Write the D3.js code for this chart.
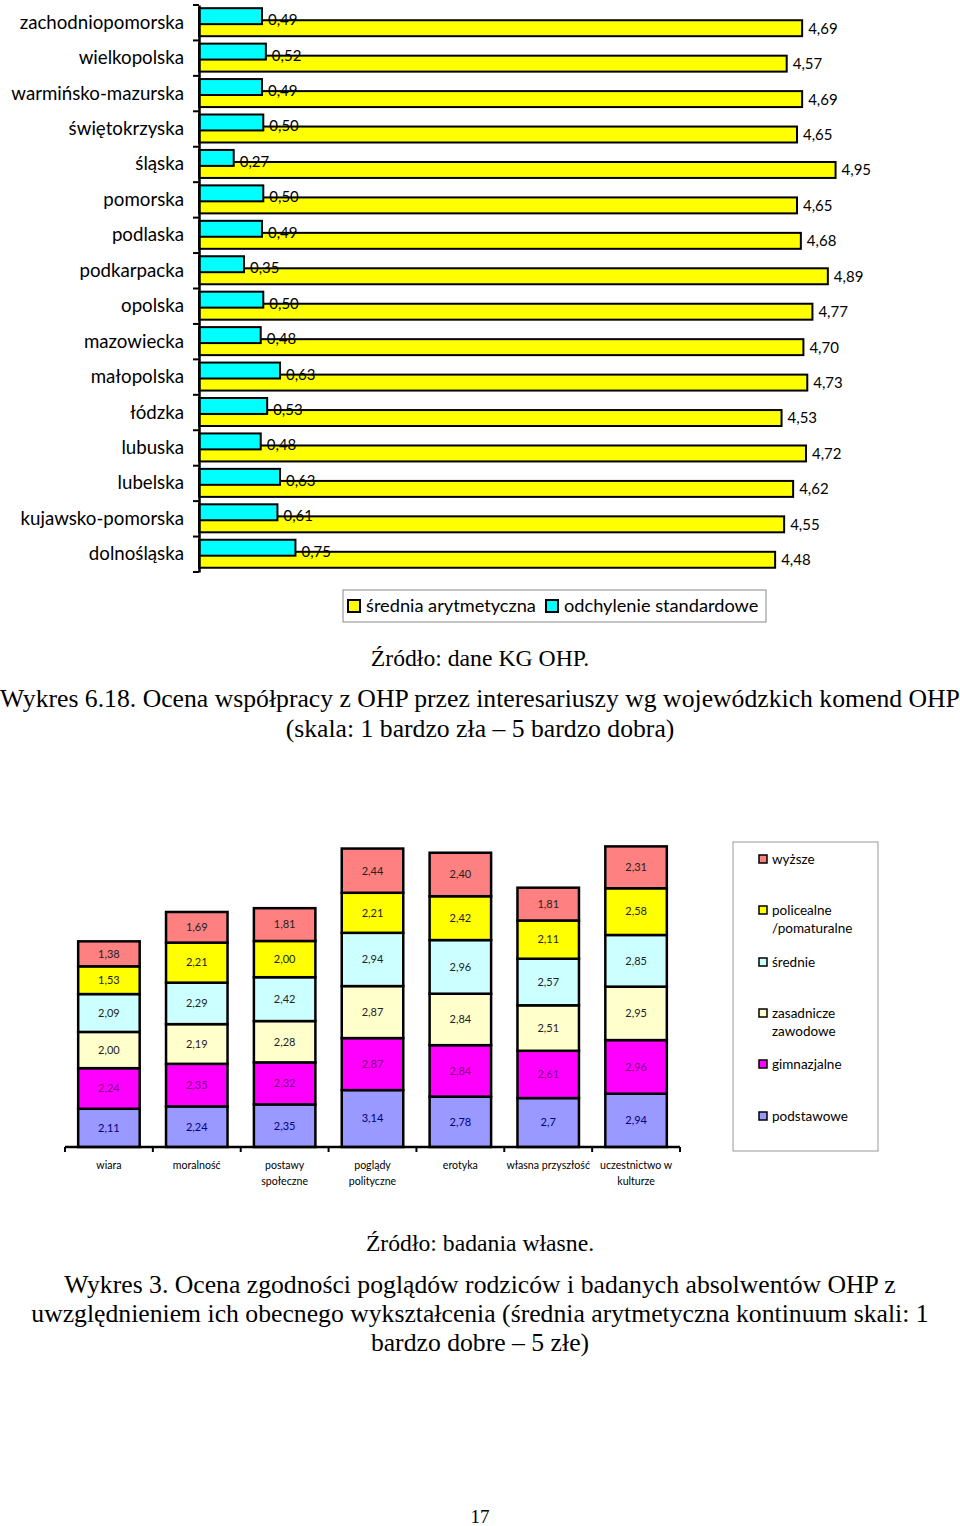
<!DOCTYPE html>
<meta charset="utf-8">
<script src="https://d3js.org/d3.v7.min.js"></script>
<style>
body{margin:0;background:#fff;}
svg text{font-family:Lato,"Open Sans",sans-serif;}
.serif{font-family:"Liberation Serif","Times New Roman",serif !important;}
</style>
<div id="vis"></div>
<script>

// --- top chart data (order as drawn, top to bottom)
var regions = ["zachodniopomorska","wielkopolska","warmińsko-mazurska","świętokrzyska","śląska",
  "pomorska","podlaska","podkarpacka","opolska","mazowiecka","małopolska","łódzka","lubuska",
  "lubelska","kujawsko-pomorska","dolnośląska"];
var meanVals = [4.69,4.57,4.69,4.65,4.95,4.65,4.68,4.89,4.77,4.70,4.73,4.53,4.72,4.62,4.55,4.48];
var sdVals   = [0.49,0.52,0.49,0.50,0.27,0.50,0.49,0.35,0.50,0.48,0.63,0.53,0.48,0.63,0.61,0.75];
var topSeries = ["średnia arytmetyczna","odchylenie standardowe"];

// --- bottom chart data
var topics = ["wiara","moralność","postawy społeczne","poglądy polityczne","erotyka","własna przyszłość","uczestnictwo w kulturze"];
var topicLines = [["wiara"],["moralność"],["postawy","społeczne"],["poglądy","polityczne"],["erotyka"],["własna przyszłość"],["uczestnictwo w","kulturze"]];
var levels = ["podstawowe","gimnazjalne","zasadnicze zawodowe","średnie","policealne /pomaturalne","wyższe"];
var podstawowe  = [2.11,2.24,2.35,3.14,2.78,2.7,2.94];
var gimnazjalne = [2.24,2.35,2.32,2.87,2.84,2.61,2.96];
var zasadnicze  = [2.00,2.19,2.28,2.87,2.84,2.51,2.95];
var srednie     = [2.09,2.29,2.42,2.94,2.96,2.57,2.85];
var policealne  = [1.53,2.21,2.00,2.21,2.42,2.11,2.58];
var wyzsze      = [1.38,1.69,1.81,2.44,2.40,1.81,2.31];
var podstawoweLabels = ["2,11","2,24","2,35","3,14","2,78","2,7","2,94"];

var fmt = function(v){ return v.toFixed(2).replace(".", ","); };

var svg = d3.select("#vis").append("svg")
  .attr("width", 960).attr("height", 1526);

// ================= TOP CHART =================
var gt = svg.append("g");

var y = d3.scaleBand().domain(regions).range([5, 572]);
var x = d3.scaleLinear().domain([0, 5]).range([199, 842]);
var bw = y.bandwidth();

// yellow (mean) bars
gt.selectAll(".mean").data(regions).enter().append("rect")
  .attr("class","mean")
  .attr("x", x(0))
  .attr("y", function(d){ return y(d) + bw*0.43; })
  .attr("width", function(d,i){ return x(meanVals[i]) - x(0); })
  .attr("height", bw*0.45)
  .attr("fill","#ffff00").attr("stroke","#000").attr("stroke-width",2);

// cyan (sd) bars
gt.selectAll(".sd").data(regions).enter().append("rect")
  .attr("class","sd")
  .attr("x", x(0))
  .attr("y", function(d){ return y(d) + bw*0.09; })
  .attr("width", function(d,i){ return x(sdVals[i]) - x(0); })
  .attr("height", bw*0.45)
  .attr("fill","#00ffff").attr("stroke","#000").attr("stroke-width",2);

gt.selectAll(".lmean").data(regions).enter().append("text")
  .attr("x", function(d,i){ return x(meanVals[i]) + 6; })
  .attr("y", function(d){ return y(d) + bw*0.66; })
  .attr("dy","0.35em").attr("font-size",15).attr("fill","#000")
  .text(function(d,i){ return fmt(meanVals[i]); });

gt.selectAll(".lsd").data(regions).enter().append("text")
  .attr("x", function(d,i){ return x(sdVals[i]) + 6; })
  .attr("y", function(d){ return y(d) + bw*0.42; })
  .attr("dy","0.35em").attr("font-size",15).attr("fill","#000")
  .text(function(d,i){ return fmt(sdVals[i]); });

// axis
var yAxis = d3.axisLeft(y).tickSize(0).tickPadding(15);
var ax = gt.append("g").attr("transform","translate(199,0)").call(yAxis);
ax.select(".domain").attr("stroke","#000").attr("stroke-width",2.5);
ax.selectAll("text").attr("font-size",18.7).attr("fill","#000")
  .style("font-family","Lato,sans-serif");
// boundary ticks
gt.selectAll(".btick").data(d3.range(regions.length + 1)).enter().append("line")
  .attr("x1",193).attr("x2",199)
  .attr("y1", function(i){ return 5 + i*y.step(); })
  .attr("y2", function(i){ return 5 + i*y.step(); })
  .attr("stroke","#000").attr("stroke-width",2);

// legend
var lg = gt.append("g");
lg.append("rect").attr("x",343).attr("y",590).attr("width",423).attr("height",32)
  .attr("fill","#fff").attr("stroke","#888").attr("stroke-width",1);
var lgColors = ["#ffff00","#00ffff"];
var lgX = [348, 546];
topSeries.forEach(function(s,i){
  lg.append("rect").attr("x",lgX[i]).attr("y",600).attr("width",12).attr("height",12)
    .attr("fill",lgColors[i]).attr("stroke","#000").attr("stroke-width",2);
  lg.append("text").attr("x",lgX[i]+18).attr("y",606).attr("dy","0.35em")
    .attr("font-size",18.2).text(s);
});

// captions
var cap = [
  {t:"Źródło: dane KG OHP.", y:658, s:23.7},
  {t:"Wykres 6.18. Ocena współpracy z OHP przez interesariuszy wg wojewódzkich komend OHP", y:698, s:25.7},
  {t:"(skala: 1 bardzo zła – 5 bardzo dobra)", y:728, s:25.7},
  {t:"Źródło: badania własne.", y:1243, s:23.7},
  {t:"Wykres 3. Ocena zgodności poglądów rodziców i badanych absolwentów OHP z", y:1284, s:25.7},
  {t:"uwzględnieniem ich obecnego wykształcenia (średnia arytmetyczna kontinuum skali: 1", y:1313, s:25.7},
  {t:"bardzo dobre – 5 złe)", y:1342, s:25.7},
  {t:"17", y:1516, s:19}
];
svg.selectAll(".cap").data(cap).enter().append("text")
  .attr("class","serif")
  .attr("x",480).attr("y",function(d){ return d.y; })
  .attr("dy","0.35em").attr("text-anchor","middle")
  .attr("font-size",function(d){ return d.s; })
  .text(function(d){ return d.t; });

// ================= BOTTOM CHART =================
var gb = svg.append("g");
var rows = topics.map(function(t,i){
  return {topic:t, "podstawowe":podstawowe[i], "gimnazjalne":gimnazjalne[i],
    "zasadnicze zawodowe":zasadnicze[i], "średnie":srednie[i],
    "policealne /pomaturalne":policealne[i], "wyższe":wyzsze[i]};
});
var stack = d3.stack().keys(levels)(rows);

var xb = d3.scaleBand().domain(topics).range([65, 680]).paddingInner(0.3).paddingOuter(0.15);
var yb = d3.scaleLinear().domain([0, 17]).range([1147, 1147 - 17*18.12]);

var fills = {"podstawowe":"#9999ff","gimnazjalne":"#ff00ff","zasadnicze zawodowe":"#ffffcc",
  "średnie":"#ccffff","policealne /pomaturalne":"#ffff00","wyższe":"#ff8080"};
var txtCol = {"podstawowe":"#000080","gimnazjalne":"#800080"};

var layer = gb.selectAll(".layer").data(stack).enter().append("g").attr("class","layer");
layer.selectAll("rect").data(function(s){ return s.map(function(d){ d.key = s.key; return d; }); })
  .enter().append("rect")
  .attr("x", function(d){ return xb(d.data.topic); })
  .attr("y", function(d){ return yb(d[1]); })
  .attr("width", xb.bandwidth())
  .attr("height", function(d){ return yb(d[0]) - yb(d[1]); })
  .attr("fill", function(d){ return fills[d.key]; })
  .attr("stroke","#000").attr("stroke-width",2.5);
layer.selectAll("text").data(function(s){ return s; })
  .enter().append("text")
  .attr("x", function(d){ return xb(d.data.topic) + xb.bandwidth()/2; })
  .attr("y", function(d){ return (yb(d[0]) + yb(d[1]))/2; })
  .attr("dy","0.35em").attr("text-anchor","middle").attr("font-size",11)
  .attr("fill", function(d){ return txtCol[d.key] || "#222"; })
  .text(function(d){
    return d.key === "podstawowe" ? podstawoweLabels[topics.indexOf(d.data.topic)] : fmt(d[1]-d[0]);
  });

// axis line + boundary ticks
gb.append("line").attr("x1",65).attr("x2",680).attr("y1",1147).attr("y2",1147)
  .attr("stroke","#000").attr("stroke-width",2.5);
gb.selectAll(".bt").data(d3.range(topics.length + 1)).enter().append("line")
  .attr("x1", function(i){ return 65 + i*xb.step(); })
  .attr("x2", function(i){ return 65 + i*xb.step(); })
  .attr("y1",1147).attr("y2",1152)
  .attr("stroke","#000").attr("stroke-width",2);

// category labels
var cl = gb.selectAll(".cl").data(topics).enter().append("text")
  .attr("text-anchor","middle").attr("font-size",10.6)
  .attr("x", function(d){ return xb(d) + xb.bandwidth()/2; })
  .attr("y", 1165);
cl.selectAll("tspan").data(function(d,i){ return topicLines[i]; }).enter().append("tspan")
  .attr("x", function(){ return d3.select(this.parentNode).attr("x"); })
  .attr("dy", function(d,i){ return i === 0 ? "0.35em" : "16px"; })
  .text(function(d){ return d; });

// legend
var lb = gb.append("g");
lb.append("rect").attr("x",733).attr("y",842).attr("width",145).attr("height",309)
  .attr("fill","#fff").attr("stroke","#999").attr("stroke-width",1);
var legRows = [
  {k:"wyższe", lines:["wyższe"], y:859},
  {k:"policealne /pomaturalne", lines:["policealne","/pomaturalne"], y:910},
  {k:"średnie", lines:["średnie"], y:962},
  {k:"zasadnicze zawodowe", lines:["zasadnicze","zawodowe"], y:1013},
  {k:"gimnazjalne", lines:["gimnazjalne"], y:1064},
  {k:"podstawowe", lines:["podstawowe"], y:1116}
];
legRows.forEach(function(r){
  lb.append("rect").attr("x",759).attr("y",r.y-4).attr("width",8).attr("height",8)
    .attr("fill",fills[r.k]).attr("stroke","#000").attr("stroke-width",1.5);
  r.lines.forEach(function(l,j){
    lb.append("text").attr("x",772).attr("y",r.y + j*18).attr("dy","0.35em")
      .attr("font-size",13.5).text(l);
  });
});

</script>
